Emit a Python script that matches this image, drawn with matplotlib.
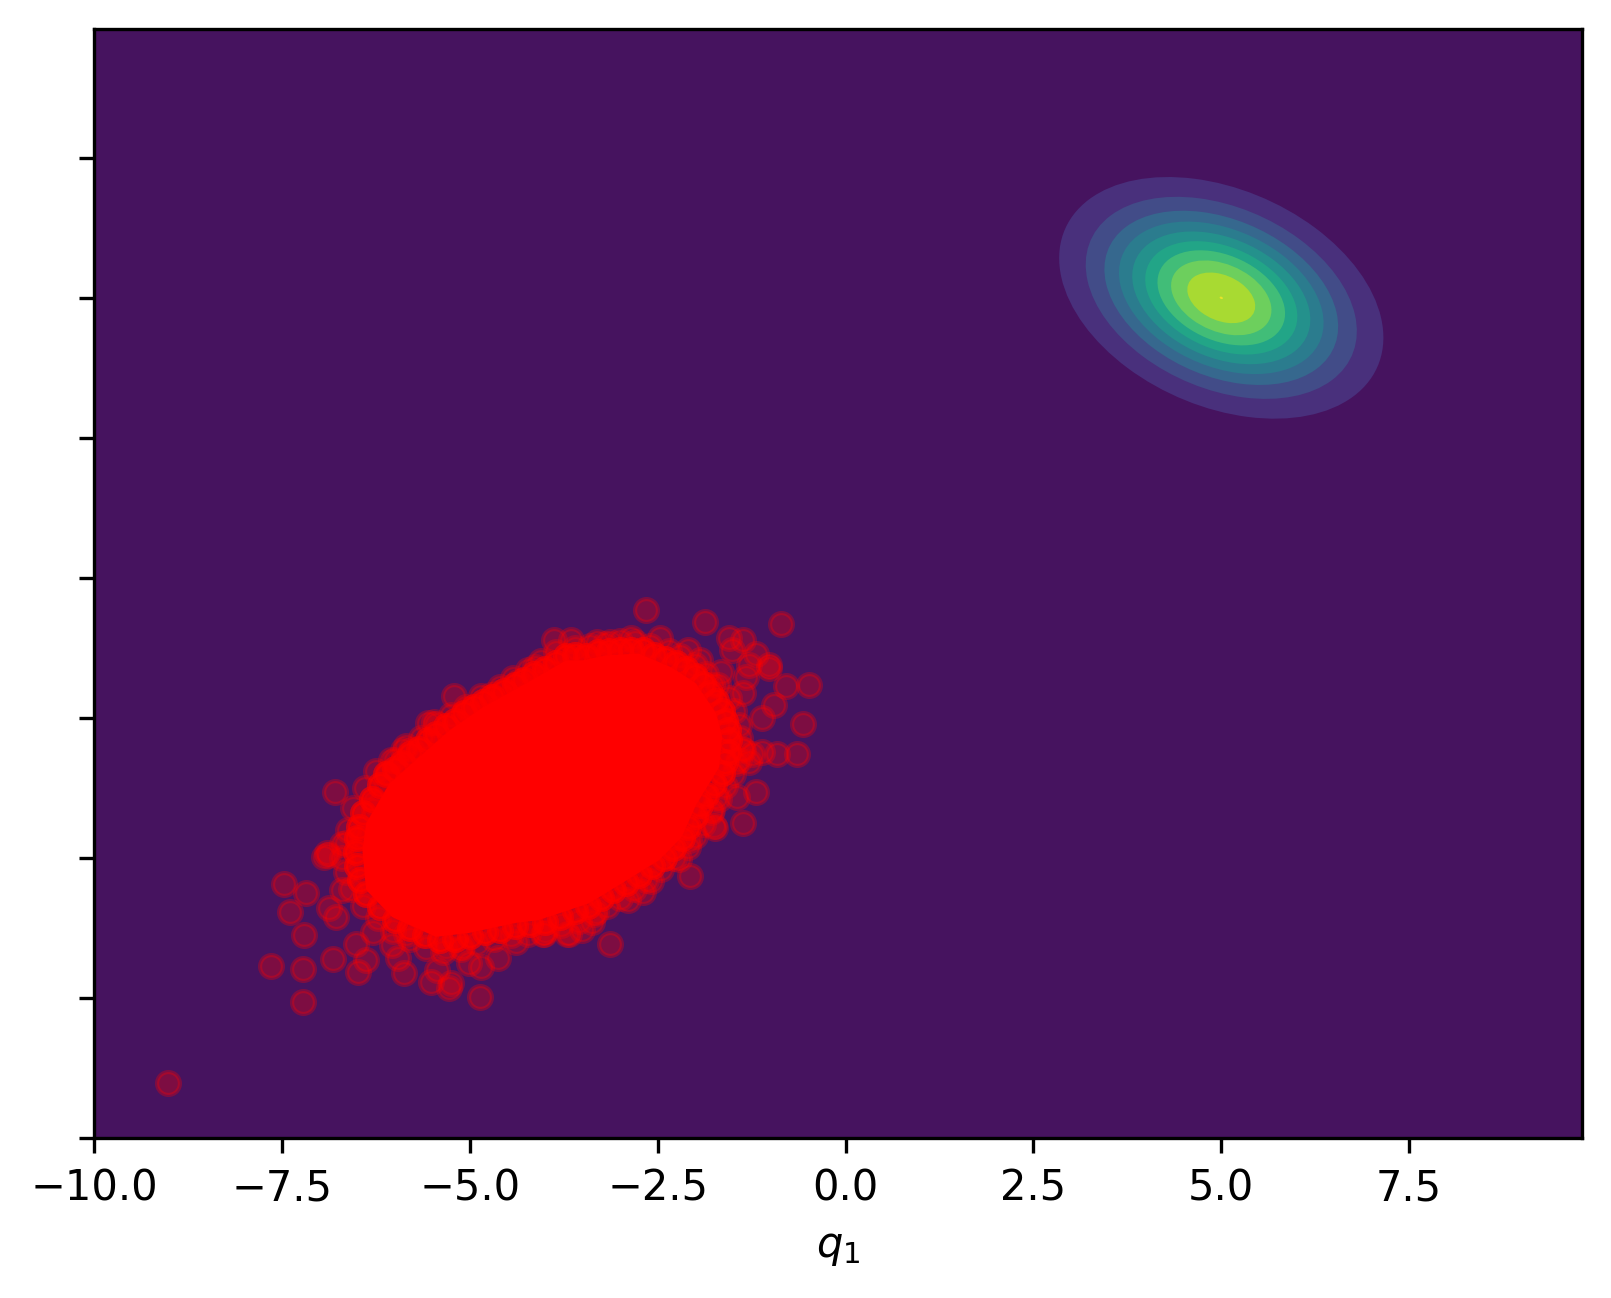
import matplotlib
matplotlib.use('Agg')
import matplotlib.pyplot as plt
from matplotlib.patches import Ellipse

# axis settings
x_ticks = [-10.0, -7.5, -5.0, -2.5, 0.0, 2.5, 5.0, 7.5]
y_ticks = [-10.0, -7.5, -5.0, -2.5, 0.0, 2.5, 5.0, 7.5]
axis_min = -10.0
axis_max = 9.8

# target density contours, outermost first
peak_q1 = 5.0
peak_q2 = 5.0
semi_major = [2.487, 2.080, 1.793, 1.570, 1.366, 1.167, 0.979, 0.770, 0.521, 0.025]
semi_minor = [1.767, 1.477, 1.274, 1.115, 0.971, 0.829, 0.695, 0.547, 0.370, 0.018]
level_colors = ['#49307c', '#424c88', '#36688e', '#2b7c8e', '#24918c', '#22a587',
                '#41bd78', '#6dcf5d', '#a8da32', '#e8e32a']
background = '#46135f'

# sample points read around the edge of the cloud
sample_q1 = [-9.01, -7.65, -7.47, -7.39, -7.22, -7.22, -7.20, -7.18, -6.94, -6.89,
             -6.87, -6.82, -6.79, -6.78, -6.70, -6.65, -6.52, -6.49, -6.43, -6.38,
             -6.29, -6.27, -6.27, -6.09, -6.03, -6.00, -5.96, -5.89, -5.87, -5.85,
             -5.78, -5.55, -5.52, -5.47, -5.43, -5.32, -5.27, -5.25, -5.21, -5.10,
             -5.01, -5.01, -4.87, -4.85, -4.72, -4.63, -4.63, -4.39, -4.36, -4.13,
             -4.03, -4.01, -3.88, -3.70, -3.68, -3.65, -3.50, -3.37, -3.32, -3.31,
             -3.14, -3.13, -2.89, -2.86, -2.70, -2.66, -2.59, -2.47, -2.22, -2.10,
             -2.08, -2.07, -1.93, -1.87, -1.79, -1.77, -1.75, -1.74, -1.73, -1.66,
             -1.55, -1.51, -1.46, -1.45, -1.37, -1.37, -1.37, -1.36, -1.33, -1.28,
             -1.28, -1.24, -1.19, -1.19, -1.11, -1.11, -1.02, -1.02, -0.95, -0.91,
             -0.86, -0.79, -0.64, -0.57, -0.49, -6.90]
sample_q2 = [-9.01, -6.93, -5.46, -5.96, -6.99, -7.57, -6.38, -5.62, -4.98, -4.95,
             -5.89, -6.81, -3.83, -6.05, -5.57, -4.74, -6.54, -7.03, -4.62, -6.82,
             -6.32, -4.00, -4.15, -3.49, -6.56, -3.25, -6.78, -3.08, -7.06, -6.35,
             -3.08, -2.59, -7.21, -2.57, -7.00, -6.59, -7.33, -7.24, -2.10, -6.59,
             -2.36, -6.88, -7.48, -6.94, -2.09, -2.06, -6.79, -6.50, -1.86, -1.59,
             -6.35, -6.35, -1.11, -6.35, -6.35, -1.11, -6.29, -6.14, -5.96, -1.14,
             -1.14, -6.53, -5.75, -1.07, -5.60, -0.57, -5.41, -1.08, -5.01, -1.28,
             -4.68, -5.32, -1.47, -0.79, -4.18, -1.92, -4.43, -4.47, -3.91, -1.68,
             -1.07, -1.28, -3.31, -3.92, -3.08, -2.06, -4.38, -1.10, -1.77, -1.56,
             -3.28, -3.14, -1.35, -3.83, -2.51, -3.11, -1.56, -1.61, -2.27, -3.15,
             -0.83, -1.93, -3.14, -2.60, -1.92, -4.92]

# crowded points right on the rim of the core
rim_q1 = [-6.48, -6.42, -6.30, -6.20, -6.12, -6.00, -5.90, -5.80, -5.68, -5.55,
          -5.45, -5.32, -5.20, -5.08, -4.95, -4.82, -4.70, -4.55, -4.40, -4.28,
          -4.15, -4.00, -3.85, -3.72, -3.60, -3.45, -3.30, -3.15, -3.00, -2.85,
          -2.70, -2.55, -2.40, -2.25, -2.12, -2.00, -1.90, -1.80, -1.72, -1.65,
          -1.60, -1.56, -1.55, -1.57, -1.60, -1.65, -1.75, -1.85, -1.93, -2.00,
          -2.10, -2.18, -2.30, -2.42, -2.58, -2.75, -2.92, -3.10, -3.25, -3.42,
          -3.60, -3.80, -4.00, -4.20, -4.40, -4.60, -4.80, -5.00, -5.20, -5.40,
          -5.60, -5.80, -6.00, -6.20, -6.38, -6.46, -6.50, -6.52, -6.50]
rim_q2 = [-4.45, -4.20, -3.95, -3.70, -3.50, -3.42, -3.30, -3.15, -3.05, -2.90,
          -2.78, -2.65, -2.55, -2.42, -2.30, -2.22, -2.12, -2.02, -1.92, -1.82,
          -1.72, -1.62, -1.52, -1.40, -1.38, -1.40, -1.32, -1.30, -1.28, -1.28,
          -1.28, -1.38, -1.45, -1.52, -1.62, -1.75, -1.90, -2.05, -2.20, -2.38,
          -2.55, -2.72, -2.90, -3.10, -3.28, -3.48, -3.68, -3.88, -4.05, -4.25,
          -4.45, -4.65, -4.82, -5.00, -5.15, -5.30, -5.45, -5.58, -5.72, -5.85,
          -5.95, -6.05, -6.15, -6.18, -6.22, -6.28, -6.33, -6.40, -6.44, -6.46,
          -6.38, -6.25, -6.10, -5.88, -5.65, -5.40, -5.15, -4.90, -4.65]

# next layer out from the rim
outer_q1 = [-6.62, -6.55, -6.40, -6.25, -6.05, -5.85, -5.65, -5.45, -5.25, -5.05,
            -4.85, -4.60, -4.42, -4.22, -4.05, -3.85, -3.60, -3.40, -3.20, -3.00,
            -2.80, -2.60, -2.35, -2.20, -2.00, -1.85, -1.70, -1.55, -1.48, -1.42,
            -1.40, -1.38, -1.42, -1.50, -1.60, -1.68, -1.78, -1.90, -2.00, -2.10,
            -2.28, -2.45, -2.65, -2.82, -3.00, -3.18, -3.35, -3.55, -3.78, -4.00,
            -4.22, -4.45, -4.68, -4.90, -5.12, -5.35, -5.58, -5.80, -6.02, -6.22,
            -6.42, -6.58, -6.65, -6.70, -6.70]
outer_q2 = [-4.50, -4.10, -3.75, -3.45, -3.25, -3.00, -2.85, -2.60, -2.45, -2.30,
            -2.10, -1.95, -1.78, -1.65, -1.48, -1.32, -1.25, -1.22, -1.18, -1.12,
            -1.15, -1.22, -1.30, -1.40, -1.55, -1.72, -1.92, -2.15, -2.38, -2.62,
            -2.85, -3.05, -3.25, -3.50, -3.72, -3.95, -4.15, -4.40, -4.60, -4.80,
            -5.00, -5.20, -5.40, -5.55, -5.72, -5.85, -6.00, -6.12, -6.20, -6.30,
            -6.35, -6.38, -6.45, -6.52, -6.62, -6.68, -6.60, -6.45, -6.30, -6.08,
            -5.85, -5.55, -5.25, -5.00, -4.75]

# outline of the solid red core where single points cannot be told apart
core_q1 = [-6.38, -6.07, -5.72, -5.27, -4.83, -4.25, -3.72, -3.50, -3.18, -2.75,
           -2.31, -1.99, -1.72, -1.64, -1.68, -1.99, -2.18, -2.48, -2.97, -3.41,
           -4.08, -4.38, -5.01, -5.45, -6.03, -6.38, -6.43]
core_q2 = [-4.38, -3.67, -3.25, -2.72, -2.31, -1.88, -1.47, -1.47, -1.38, -1.35,
           -1.60, -1.88, -2.42, -2.84, -3.38, -4.06, -4.63, -5.04, -5.45, -5.81,
           -6.11, -6.16, -6.34, -6.41, -6.06, -5.57, -4.86]

fig = plt.figure(figsize=(1611 / 300, 1298 / 300), dpi=300)
ax = fig.add_axes([94 / 1611, 1 - 1138 / 1298, (1582 - 94) / 1611, (1138 - 29) / 1298])
ax.set_facecolor(background)

# Plot the contour bands
for major, minor, color in zip(semi_major, semi_minor, level_colors):
    ax.add_patch(Ellipse((peak_q1, peak_q2), 2 * major, 2 * minor, angle=-45,
                         facecolor=color, edgecolor='none', zorder=2))

# Plot the samples
ax.fill(core_q1, core_q2, color='r', linewidth=0, zorder=3)
ax.scatter(sample_q1, sample_q2, s=30, color='r', alpha=0.3, linewidths=1, zorder=4)
ax.scatter(outer_q1, outer_q2, s=30, color='r', alpha=0.3, linewidths=1, zorder=4)
ax.scatter(rim_q1 * 3, rim_q2 * 3, s=30, color='r', alpha=0.3, linewidths=1, zorder=4)

ax.set_xlim(axis_min, axis_max)
ax.set_ylim(axis_min, axis_max)
ax.set_xticks(x_ticks)
ax.set_yticks(y_ticks)
ax.set_yticklabels([])
ax.set_xlabel('$q_1$')

fig.savefig('out.png', dpi=300)
